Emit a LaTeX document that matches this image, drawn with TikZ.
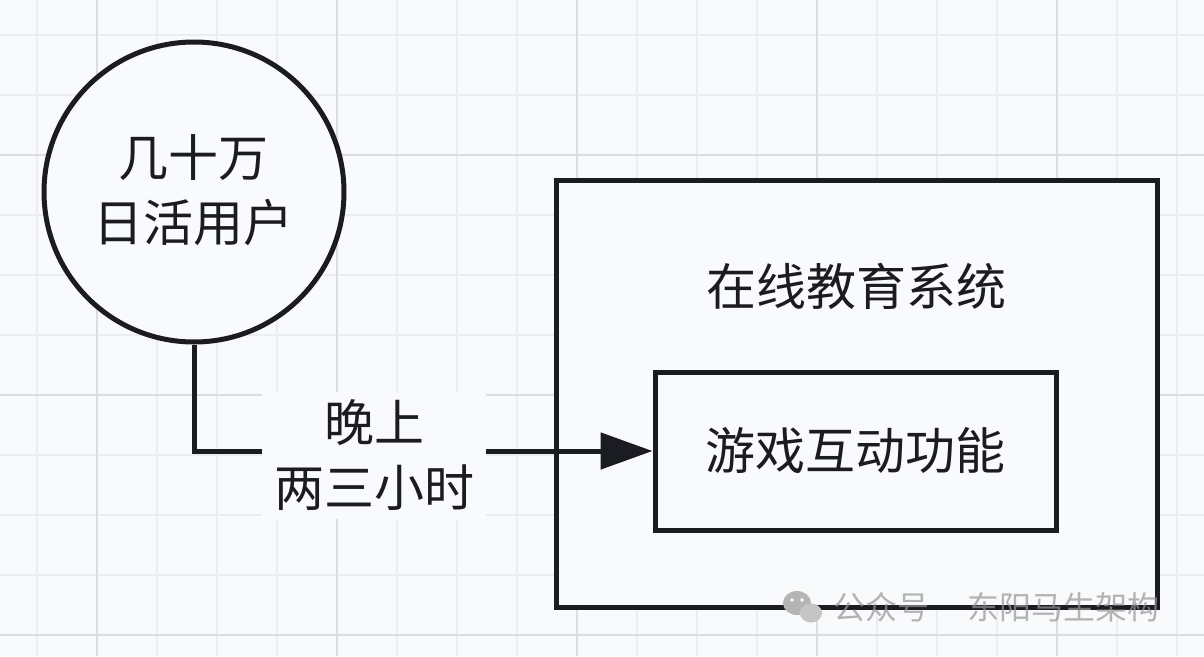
\documentclass[tikz,border=0pt]{standalone}
\usepackage{fontspec}
\newfontfamily\cjk{Noto Sans CJK SC}
\usetikzlibrary{arrows.meta}
\definecolor{ink}{HTML}{1B1B22}
\definecolor{bg}{HTML}{F9FAFC}
\definecolor{gridminor}{HTML}{ECEDF0}
\definecolor{gridmajor}{HTML}{DCDDE1}
\definecolor{wmgray}{HTML}{959595}
\tikzset{
  shapeline/.style={draw=ink, line width=5pt, fill=bg},
  bigtext/.style={font=\cjk\fontsize{50}{65}\selectfont, text=ink, align=center},
  conn/.style={draw=ink, line width=5pt, -{Triangle[length=52pt,width=36pt]}},
}
\begin{document}
\begin{tikzpicture}[x=1pt,y=-1pt]
\useasboundingbox (0,0) rectangle (1204,656);
\fill[bg] (0,0) rectangle (1204,656);
% grid
\foreach \x in {37,157,217,277,397,457,517,637,697,757,877,937,997,1117,1177}
  \draw[gridminor, line width=1.5pt] (\x,0) -- (\x,656);
\foreach \y in {35,95,215,275,335,455,515,575}
  \draw[gridminor, line width=1.5pt] (0,\y) -- (1204,\y);
\foreach \x in {97,337,577,817,1057}
  \draw[gridmajor, line width=1.8pt] (\x,0) -- (\x,656);
\foreach \y in {155,395,635}
  \draw[gridmajor, line width=1.8pt] (0,\y) -- (1204,\y);

% user circle
\node[shapeline, circle, minimum size=300pt, inner sep=0pt] (users) at (194,192) {};
\node[bigtext] (userstext) at (193,190) {几十万\\日活用户};

% outer system box
\node[shapeline, rectangle, minimum width=601pt, minimum height=427pt, inner sep=0pt] (sys) at (856.5,393.5) {};
\node[bigtext] (systitle) at (856,286) {在线教育系统};

% inner feature box
\node[shapeline, rectangle, minimum width=401pt, minimum height=158pt, inner sep=0pt] (game) at (855.5,451) {};
\node[bigtext] (gametext) at (855.5,451) {游戏互动功能};

% connector
\draw[conn] (users.south) |- (game.west);
\node[bigtext, fill=bg, inner xsep=12pt, inner ysep=8pt] (when) at (374,455) {晚上\\两三小时};

% watermark
\fill[wmgray!70] (797,603) ellipse [x radius=14pt, y radius=12pt];
\fill[wmgray!55] (811,613) ellipse [x radius=11pt, y radius=9.5pt];
\fill[white] (792,600) circle (1.8pt);
\fill[white] (802,600) circle (1.8pt);
\node[anchor=west, font=\cjk\fontsize{32}{32}\selectfont, text=wmgray, opacity=0.7, inner sep=0pt] (wm) at (833,607) {公众号\hspace{38pt}东阳马生架构};
\end{tikzpicture}
\end{document}
